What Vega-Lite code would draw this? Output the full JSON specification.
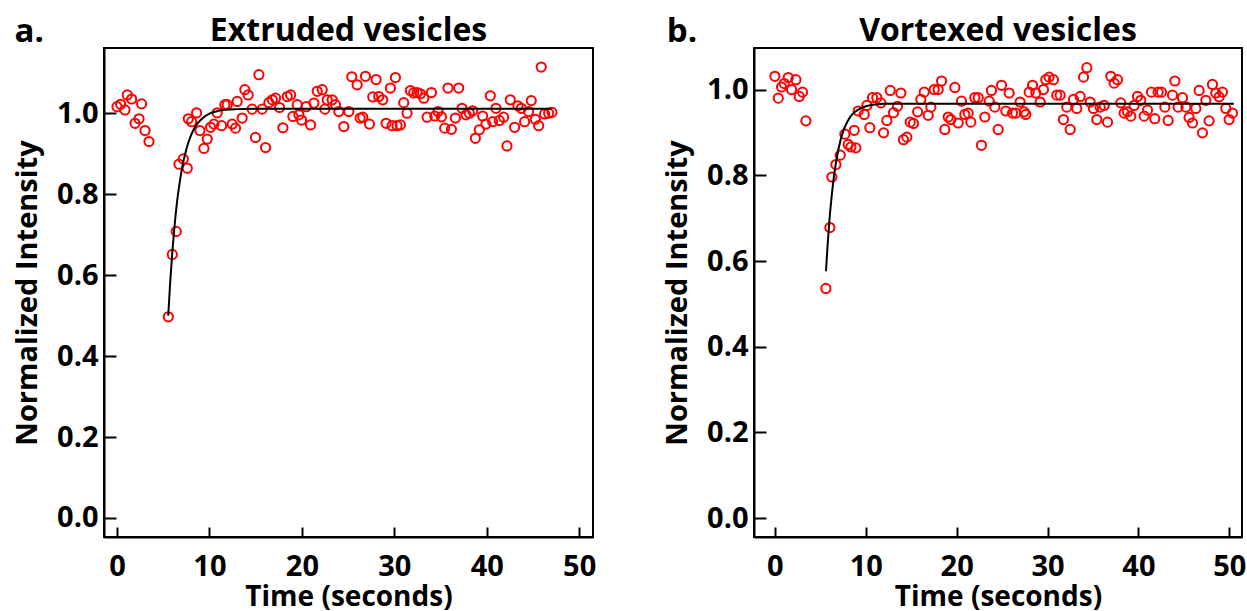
{
  "$schema": "https://vega.github.io/schema/vega-lite/v6.json",
  "padding": {"left": 12, "top": 13, "right": 4, "bottom": 0},
  "spacing": 65,
  "background": "white",
  "config": {
    "view": {"stroke": "black", "strokeWidth": 2},
    "font": "Open Sans",
    "axis": {
      "grid": false,
      "domainColor": "black",
      "domainWidth": 2,
      "tickColor": "black",
      "tickWidth": 2,
      "labelFont": "Open Sans",
      "labelFontWeight": "bold",
      "labelFontSize": 29,
      "labelColor": "black",
      "titleFont": "Open Sans",
      "titleFontWeight": "bold",
      "titleFontSize": 29,
      "titleColor": "black"
    },
    "axisX": {"tickSize": -10, "labelPadding": 25, "titlePadding": 2, "titleFontSize": 28},
    "axisY": {"tickSize": -12, "labelPadding": 18, "titlePadding": 14}
  },
  "datasets": {
    "a_pts": [
      {"t": 0.0, "v": 1.016}, {"t": 0.39, "v": 1.022}, {"t": 0.86, "v": 1.008}, {"t": 1.11, "v": 1.045}, {"t": 1.58, "v": 1.035},
      {"t": 1.95, "v": 0.975}, {"t": 2.38, "v": 0.986}, {"t": 2.66, "v": 1.023}, {"t": 3.03, "v": 0.957}, {"t": 3.46, "v": 0.93},
      {"t": 5.55, "v": 0.497}, {"t": 5.98, "v": 0.651}, {"t": 6.41, "v": 0.708}, {"t": 6.7, "v": 0.874}, {"t": 7.17, "v": 0.887},
      {"t": 7.6, "v": 0.864}, {"t": 7.71, "v": 0.986}, {"t": 8.07, "v": 0.979}, {"t": 8.61, "v": 1.001}, {"t": 8.97, "v": 0.957},
      {"t": 9.4, "v": 0.913}, {"t": 9.76, "v": 0.936}, {"t": 10.12, "v": 0.965}, {"t": 10.48, "v": 0.973}, {"t": 10.84, "v": 1.001},
      {"t": 11.31, "v": 0.969}, {"t": 11.67, "v": 1.021}, {"t": 11.92, "v": 1.021}, {"t": 12.46, "v": 0.973}, {"t": 12.82, "v": 0.963},
      {"t": 13.0, "v": 1.029}, {"t": 13.54, "v": 0.988}, {"t": 13.83, "v": 1.058}, {"t": 14.19, "v": 1.045}, {"t": 14.62, "v": 1.01},
      {"t": 14.98, "v": 0.94}, {"t": 15.35, "v": 1.095}, {"t": 15.71, "v": 1.01}, {"t": 16.07, "v": 0.915}, {"t": 16.43, "v": 1.026},
      {"t": 16.8, "v": 1.033}, {"t": 17.15, "v": 1.037}, {"t": 17.58, "v": 1.014}, {"t": 17.95, "v": 0.964}, {"t": 18.42, "v": 1.041},
      {"t": 18.78, "v": 1.045}, {"t": 19.03, "v": 0.992}, {"t": 19.5, "v": 1.021}, {"t": 19.68, "v": 0.996}, {"t": 19.96, "v": 0.983},
      {"t": 20.47, "v": 1.016}, {"t": 20.94, "v": 0.971}, {"t": 21.3, "v": 1.025}, {"t": 21.66, "v": 1.054}, {"t": 22.2, "v": 1.058},
      {"t": 22.49, "v": 1.01}, {"t": 22.74, "v": 1.033}, {"t": 23.28, "v": 1.033}, {"t": 23.64, "v": 1.021}, {"t": 24.0, "v": 1.004},
      {"t": 24.54, "v": 0.967}, {"t": 25.08, "v": 1.004}, {"t": 25.4, "v": 1.09}, {"t": 25.98, "v": 1.07}, {"t": 26.3, "v": 0.988},
      {"t": 26.59, "v": 0.99}, {"t": 26.88, "v": 1.091}, {"t": 27.31, "v": 0.973}, {"t": 27.67, "v": 1.04}, {"t": 28.03, "v": 1.083},
      {"t": 28.32, "v": 1.041}, {"t": 28.75, "v": 1.033}, {"t": 29.11, "v": 0.975}, {"t": 29.58, "v": 1.062}, {"t": 29.76, "v": 0.969},
      {"t": 30.12, "v": 1.088}, {"t": 30.3, "v": 0.969}, {"t": 30.66, "v": 0.971}, {"t": 31.02, "v": 1.026}, {"t": 31.38, "v": 1.0},
      {"t": 31.74, "v": 1.056}, {"t": 32.1, "v": 1.05}, {"t": 32.47, "v": 1.051}, {"t": 32.83, "v": 1.048}, {"t": 33.19, "v": 1.037},
      {"t": 33.55, "v": 0.99}, {"t": 34.02, "v": 1.051}, {"t": 34.38, "v": 0.993}, {"t": 34.73, "v": 1.004}, {"t": 35.1, "v": 0.991},
      {"t": 35.45, "v": 0.963}, {"t": 35.81, "v": 1.062}, {"t": 36.18, "v": 0.96}, {"t": 36.61, "v": 0.988}, {"t": 36.97, "v": 1.062},
      {"t": 37.33, "v": 1.012}, {"t": 37.76, "v": 0.996}, {"t": 38.12, "v": 1.0}, {"t": 38.48, "v": 1.006}, {"t": 38.77, "v": 0.938},
      {"t": 39.2, "v": 0.959}, {"t": 39.56, "v": 0.993}, {"t": 39.92, "v": 0.973}, {"t": 40.39, "v": 1.043}, {"t": 40.64, "v": 0.979},
      {"t": 41.0, "v": 1.012}, {"t": 41.36, "v": 0.982}, {"t": 41.83, "v": 0.99}, {"t": 42.19, "v": 0.919}, {"t": 42.55, "v": 1.033},
      {"t": 43.02, "v": 0.965}, {"t": 43.38, "v": 1.018}, {"t": 43.74, "v": 1.012}, {"t": 44.1, "v": 0.979}, {"t": 44.53, "v": 1.004},
      {"t": 44.82, "v": 1.031}, {"t": 45.26, "v": 0.985}, {"t": 45.62, "v": 0.969}, {"t": 45.9, "v": 1.114}, {"t": 46.27, "v": 0.998},
      {"t": 46.7, "v": 1.0}, {"t": 47.06, "v": 1.002}
    ],
    "a_fit": [
      {"t": 5.54, "v": 0.5}, {"t": 5.75, "v": 0.582}, {"t": 6.0, "v": 0.662}, {"t": 6.25, "v": 0.728}, {"t": 6.5, "v": 0.782},
      {"t": 6.75, "v": 0.824}, {"t": 7.0, "v": 0.86}, {"t": 7.5, "v": 0.911}, {"t": 8.0, "v": 0.945}, {"t": 8.5, "v": 0.968},
      {"t": 9.0, "v": 0.982}, {"t": 9.5, "v": 0.992}, {"t": 10.0, "v": 0.999}, {"t": 11.0, "v": 1.006}, {"t": 12.0, "v": 1.009},
      {"t": 13.0, "v": 1.01}, {"t": 15.0, "v": 1.011}, {"t": 47.0, "v": 1.011}
    ],
    "b_pts": [
      {"t": 0.0, "v": 1.031}, {"t": 0.37, "v": 0.98}, {"t": 0.73, "v": 1.006}, {"t": 1.03, "v": 1.014}, {"t": 1.47, "v": 1.028},
      {"t": 1.83, "v": 1.0}, {"t": 2.31, "v": 1.023}, {"t": 2.68, "v": 0.984}, {"t": 3.04, "v": 0.994}, {"t": 3.41, "v": 0.927},
      {"t": 5.61, "v": 0.536}, {"t": 6.05, "v": 0.678}, {"t": 6.27, "v": 0.796}, {"t": 6.71, "v": 0.825}, {"t": 7.19, "v": 0.847},
      {"t": 7.7, "v": 0.896}, {"t": 8.07, "v": 0.872}, {"t": 8.36, "v": 0.866}, {"t": 8.73, "v": 0.905}, {"t": 8.91, "v": 0.864},
      {"t": 9.17, "v": 0.95}, {"t": 9.83, "v": 0.942}, {"t": 10.12, "v": 0.963}, {"t": 10.45, "v": 0.911}, {"t": 10.74, "v": 0.981},
      {"t": 11.22, "v": 0.981}, {"t": 11.66, "v": 0.969}, {"t": 11.96, "v": 0.899}, {"t": 12.32, "v": 0.928}, {"t": 12.69, "v": 0.998},
      {"t": 13.05, "v": 0.946}, {"t": 13.49, "v": 0.961}, {"t": 13.86, "v": 0.992}, {"t": 14.15, "v": 0.883}, {"t": 14.52, "v": 0.889},
      {"t": 14.89, "v": 0.924}, {"t": 15.25, "v": 0.921}, {"t": 15.7, "v": 0.948}, {"t": 16.06, "v": 0.977}, {"t": 16.43, "v": 0.994},
      {"t": 16.87, "v": 0.94}, {"t": 17.16, "v": 0.959}, {"t": 17.53, "v": 1.0}, {"t": 17.97, "v": 1.0}, {"t": 18.34, "v": 1.02},
      {"t": 18.7, "v": 0.907}, {"t": 19.07, "v": 0.936}, {"t": 19.36, "v": 0.93}, {"t": 19.8, "v": 1.005}, {"t": 20.17, "v": 0.922},
      {"t": 20.53, "v": 0.973}, {"t": 20.9, "v": 0.942}, {"t": 21.27, "v": 0.945}, {"t": 21.56, "v": 0.924}, {"t": 22.0, "v": 0.981},
      {"t": 22.37, "v": 0.981}, {"t": 22.73, "v": 0.87}, {"t": 23.1, "v": 0.936}, {"t": 23.58, "v": 0.973}, {"t": 23.83, "v": 0.998},
      {"t": 24.2, "v": 0.959}, {"t": 24.57, "v": 0.907}, {"t": 24.94, "v": 1.01}, {"t": 25.41, "v": 0.95}, {"t": 25.78, "v": 0.992},
      {"t": 26.15, "v": 0.945}, {"t": 26.51, "v": 0.945}, {"t": 26.98, "v": 0.971}, {"t": 27.43, "v": 0.948}, {"t": 27.61, "v": 0.942},
      {"t": 27.98, "v": 0.994}, {"t": 28.35, "v": 1.01}, {"t": 28.71, "v": 0.992}, {"t": 29.19, "v": 0.971}, {"t": 29.55, "v": 1.0},
      {"t": 29.81, "v": 1.023}, {"t": 30.17, "v": 1.029}, {"t": 30.65, "v": 1.023}, {"t": 31.02, "v": 0.987}, {"t": 31.39, "v": 0.987},
      {"t": 31.75, "v": 0.93}, {"t": 32.12, "v": 0.959}, {"t": 32.49, "v": 0.907}, {"t": 32.86, "v": 0.977}, {"t": 33.22, "v": 0.956},
      {"t": 33.59, "v": 0.984}, {"t": 33.96, "v": 1.029}, {"t": 34.32, "v": 1.051}, {"t": 34.69, "v": 0.971}, {"t": 35.06, "v": 0.956},
      {"t": 35.42, "v": 0.93}, {"t": 35.79, "v": 0.959}, {"t": 36.23, "v": 0.963}, {"t": 36.6, "v": 0.924}, {"t": 36.96, "v": 1.031},
      {"t": 37.33, "v": 1.015}, {"t": 37.7, "v": 1.023}, {"t": 38.06, "v": 0.969}, {"t": 38.43, "v": 0.945}, {"t": 38.8, "v": 0.948},
      {"t": 39.16, "v": 0.938}, {"t": 39.53, "v": 0.963}, {"t": 39.9, "v": 0.984}, {"t": 40.26, "v": 0.975}, {"t": 40.63, "v": 0.938},
      {"t": 41.0, "v": 0.952}, {"t": 41.44, "v": 0.994}, {"t": 41.8, "v": 0.932}, {"t": 42.17, "v": 0.994}, {"t": 42.54, "v": 0.994},
      {"t": 42.91, "v": 0.959}, {"t": 43.27, "v": 0.928}, {"t": 43.75, "v": 0.987}, {"t": 44.01, "v": 1.02}, {"t": 44.37, "v": 0.959},
      {"t": 44.85, "v": 0.981}, {"t": 45.22, "v": 0.959}, {"t": 45.58, "v": 0.935}, {"t": 45.95, "v": 0.922}, {"t": 46.32, "v": 0.956},
      {"t": 46.68, "v": 0.998}, {"t": 47.05, "v": 0.899}, {"t": 47.42, "v": 0.975}, {"t": 47.78, "v": 0.927}, {"t": 48.15, "v": 1.012},
      {"t": 48.52, "v": 0.992}, {"t": 48.88, "v": 0.983}, {"t": 49.25, "v": 0.994}, {"t": 49.62, "v": 0.956}, {"t": 49.98, "v": 0.93},
      {"t": 50.35, "v": 0.945}
    ],
    "b_fit": [
      {"t": 5.62, "v": 0.576}, {"t": 5.8, "v": 0.637}, {"t": 6.0, "v": 0.695}, {"t": 6.25, "v": 0.752}, {"t": 6.5, "v": 0.798},
      {"t": 7.0, "v": 0.862}, {"t": 7.5, "v": 0.902}, {"t": 8.0, "v": 0.926}, {"t": 8.5, "v": 0.942}, {"t": 9.0, "v": 0.951},
      {"t": 10.0, "v": 0.961}, {"t": 11.0, "v": 0.965}, {"t": 12.0, "v": 0.967}, {"t": 50.5, "v": 0.967}
    ]
  },
  "hconcat": [
    {
      "width": 489,
      "height": 489,
      "layer": [
        {
          "data": {"name": "a_pts"},
          "mark": {"type": "point", "shape": "circle", "filled": false, "color": "#ff0000", "strokeWidth": 2, "size": 85, "opacity": 1},
          "encoding": {
            "x": {"field": "t", "type": "quantitative", "scale": {"domain": [-1.41, 51.5], "nice": false, "zero": false},
                  "axis": {"values": [0, 10, 20, 30, 40, 50], "format": "d", "title": "Time (seconds)"}},
            "y": {"field": "v", "type": "quantitative", "scale": {"domain": [-0.047, 1.161], "nice": false, "zero": false},
                  "axis": {"values": [0, 0.2, 0.4, 0.6, 0.8, 1.0], "format": ".1f", "title": "Normalized Intensity"}}
          }
        },
        {
          "data": {"name": "a_fit"},
          "mark": {"type": "line", "color": "black", "strokeWidth": 2, "interpolate": "monotone"},
          "encoding": {
            "x": {"field": "t", "type": "quantitative"},
            "y": {"field": "v", "type": "quantitative"}
          }
        },
        {
          "data": {"values": [{"label": "a."}]},
          "mark": {"type": "text", "font": "Open Sans", "fontWeight": "bold", "fontSize": 33, "align": "left", "baseline": "alphabetic", "color": "black"},
          "encoding": {
            "text": {"field": "label"},
            "x": {"datum": -11.1, "type": "quantitative"},
            "y": {"datum": 1.177, "type": "quantitative"}
          }
        },
        {
          "data": {"values": [{"label": "Extruded vesicles"}]},
          "mark": {"type": "text", "font": "Open Sans", "fontWeight": "bold", "fontSize": 32, "align": "center", "baseline": "alphabetic", "color": "black"},
          "encoding": {
            "text": {"field": "label"},
            "x": {"datum": 25.05, "type": "quantitative"},
            "y": {"datum": 1.179, "type": "quantitative"}
          }
        }
      ]
    },
    {
      "width": 488,
      "height": 489,
      "layer": [
        {
          "data": {"name": "b_pts"},
          "mark": {"type": "point", "shape": "circle", "filled": false, "color": "#ff0000", "strokeWidth": 2, "size": 85, "opacity": 1},
          "encoding": {
            "x": {"field": "t", "type": "quantitative", "scale": {"domain": [-2.3, 51.4], "nice": false, "zero": false},
                  "axis": {"values": [0, 10, 20, 30, 40, 50], "format": "d", "title": "Time (seconds)"}},
            "y": {"field": "v", "type": "quantitative", "scale": {"domain": [-0.044, 1.097], "nice": false, "zero": false},
                  "axis": {"values": [0, 0.2, 0.4, 0.6, 0.8, 1.0], "format": ".1f", "title": "Normalized Intensity"}}
          }
        },
        {
          "data": {"name": "b_fit"},
          "mark": {"type": "line", "color": "black", "strokeWidth": 2, "interpolate": "monotone"},
          "encoding": {
            "x": {"field": "t", "type": "quantitative"},
            "y": {"field": "v", "type": "quantitative"}
          }
        },
        {
          "data": {"values": [{"label": "b."}]},
          "mark": {"type": "text", "font": "Open Sans", "fontWeight": "bold", "fontSize": 33, "align": "left", "baseline": "alphabetic", "color": "black"},
          "encoding": {
            "text": {"field": "label"},
            "x": {"datum": -11.9, "type": "quantitative"},
            "y": {"datum": 1.111, "type": "quantitative"}
          }
        },
        {
          "data": {"values": [{"label": "Vortexed vesicles"}]},
          "mark": {"type": "text", "font": "Open Sans", "fontWeight": "bold", "fontSize": 32, "align": "center", "baseline": "alphabetic", "color": "black"},
          "encoding": {
            "text": {"field": "label"},
            "x": {"datum": 24.55, "type": "quantitative"},
            "y": {"datum": 1.113, "type": "quantitative"}
          }
        }
      ]
    }
  ]
}
